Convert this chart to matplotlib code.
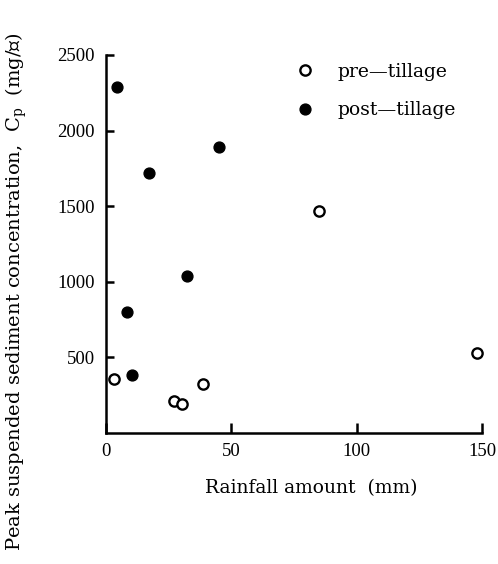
import matplotlib
matplotlib.use("Agg")
import matplotlib.pyplot as plt

plt.rcParams['font.family'] = ['Liberation Serif', 'DejaVu Serif']
plt.rcParams['mathtext.fontset'] = 'dejavuserif'

# Rainfall amount (mm) vs peak suspended sediment concentration (mg/l)
pre_rain = [3, 27, 30.5, 38.5, 85, 148]
pre_conc = [355, 212, 192, 324, 1465, 528]
post_rain = [4.3, 17.3, 45, 32.3, 8.3, 10.5]
post_conc = [2290, 1720, 1890, 1035, 800, 385]

xticks = [0, 50, 100, 150]
yticks = [500, 1000, 1500, 2000, 2500]

wide = ['DejaVu Serif']

fig = plt.figure(figsize=(4.98, 5.64), dpi=100)
ax = fig.add_axes([0.2129, 0.2323, 0.7551, 0.6702])

ax.plot(pre_rain, pre_conc, 'o', ms=7.4, mfc='white', mec='black', mew=1.7,
        ls='none', clip_on=False, label='pre\u2014tillage')
ax.plot(post_rain, post_conc, 'o', ms=7.8, mfc='black', mec='black', mew=1.0,
        ls='none', clip_on=False, label='post\u2014tillage')

ax.set_xlim(0, 150)
ax.set_ylim(0, 2500)
ax.set_xticks(xticks)
ax.set_yticks(yticks)
for s in ['top', 'right']:
    ax.spines[s].set_visible(False)
for s in ['left', 'bottom']:
    ax.spines[s].set_linewidth(1.8)
ax.tick_params(axis='x', direction='in', length=7, width=1.8, pad=7, labelsize=13.5)
ax.tick_params(axis='y', direction='in', length=5.5, width=1.8, pad=8, labelsize=13.5)

ax.set_xlabel('Rainfall amount  (mm)', fontsize=13.5, family=wide)
ax.xaxis.set_label_coords(0.545, -0.122)
ax.set_ylabel(r'Peak suspended sediment concentration,  C$_{\rm p}$  (mg/ℓ)',
              fontsize=14, family=wide)
ax.yaxis.set_label_coords(-0.205, 0.373)

ax.legend(loc='upper left', bbox_to_anchor=(0.46, 1.024), frameon=False,
          handlelength=1.0, handletextpad=1.2, labelspacing=1.1,
          prop={'family': wide, 'size': 13.5})

fig.savefig('out.png', dpi=100)
